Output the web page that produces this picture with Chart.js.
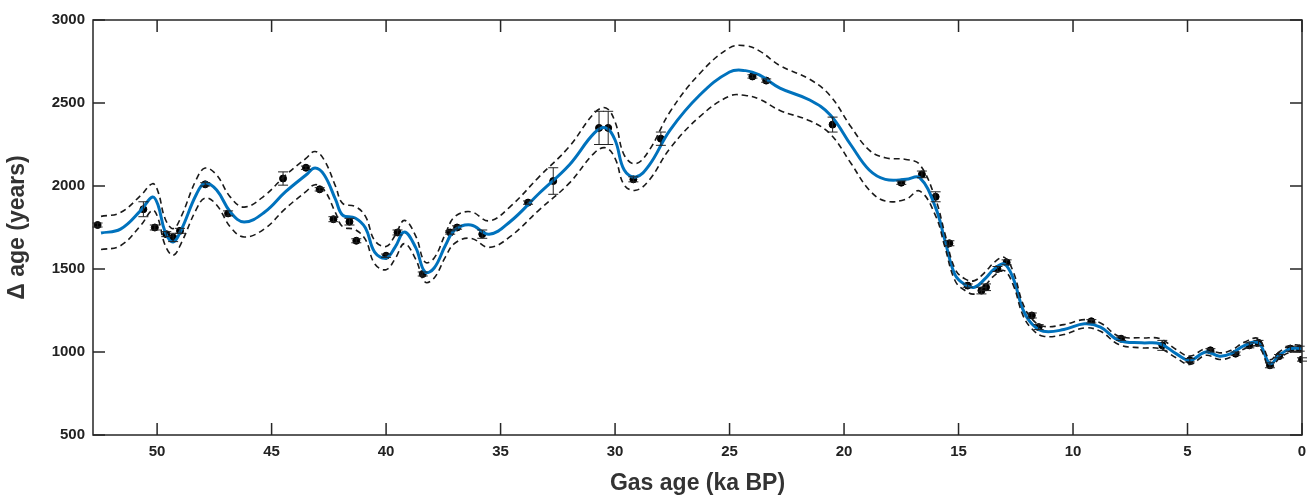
<!DOCTYPE html>
<html>
<head>
<meta charset="utf-8">
<script src="https://cdn.jsdelivr.net/npm/chart.js@4"></script>
<style>
  html, body { margin: 0; padding: 0; background: #fff; }
  #wrap { width: 1310px; height: 501px; }
</style>
</head>
<body>
<div id="wrap"><canvas id="c" width="1310" height="501"></canvas></div>
<script>
// Spline fit (gas age ka BP, delta age years) and its half-width of the dashed band
const fitAge = [52.45, 51.6, 50.7, 50.2, 49.96, 49.65, 49.3, 48.95, 48.3, 47.9, 47.4, 46.8, 46.2, 45.3, 44.4, 43.5, 43.1, 42.7, 42.2, 41.9, 41.35, 40.9, 40.5, 40.0, 39.6, 39.2, 38.7, 38.3, 37.9, 37.4, 37.0, 36.3, 35.5, 34.6, 33.3, 32.0, 30.9, 30.4, 30.0, 29.6, 29.1, 28.5, 27.6, 26.3, 25.0, 24.3, 23.7, 22.8, 21.5, 20.6, 19.7, 18.9, 18.2, 17.3, 16.7, 16.0, 15.6, 15.15, 14.7, 14.3, 13.85, 13.4, 13.0, 12.6, 12.2, 11.8, 11.3, 10.4, 9.5, 8.8, 8.0, 7.0, 6.2, 5.5, 4.9, 4.2, 3.6, 3.1, 2.5, 1.9, 1.4, 1.0, 0.5, 0.0];
const fitDelta = [1717, 1740, 1855, 1934, 1886, 1723, 1663, 1735, 1946, 2018, 1976, 1843, 1783, 1843, 1964, 2066, 2108, 2066, 1916, 1825, 1807, 1747, 1602, 1566, 1633, 1723, 1627, 1482, 1506, 1645, 1735, 1765, 1710, 1783, 1958, 2127, 2320, 2350, 2277, 2096, 2054, 2127, 2337, 2548, 2687, 2695, 2669, 2590, 2518, 2428, 2247, 2096, 2040, 2040, 2050, 1870, 1675, 1464, 1404, 1390, 1440, 1505, 1530, 1440, 1260, 1170, 1125, 1135, 1170, 1150, 1070, 1055, 1050, 990, 950, 1000, 975, 990, 1040, 1055, 930, 980, 1020, 1020];
const bandHalf = [100, 100, 90, 80, 80, 80, 80, 80, 90, 90, 90, 90, 90, 100, 100, 100, 100, 90, 80, 70, 70, 70, 70, 70, 70, 70, 70, 60, 60, 70, 80, 80, 80, 90, 100, 110, 120, 120, 110, 90, 80, 90, 110, 130, 145, 150, 145, 135, 125, 115, 110, 120, 130, 120, 80, 50, 40, 35, 35, 40, 40, 40, 40, 40, 35, 30, 30, 30, 25, 25, 25, 30, 30, 25, 25, 20, 20, 20, 20, 25, 25, 20, 20, 20];

// Measured points with 1-sigma error
const obsAge = [52.6, 50.6, 50.1, 49.6, 49.3, 49.0, 47.9, 46.9, 44.5, 43.5, 42.9, 42.3, 41.6, 41.3, 40.0, 39.5, 38.4, 37.2, 36.9, 35.8, 33.8, 32.7, 30.7, 30.3, 29.2, 28.0, 24.0, 23.4, 20.5, 17.5, 16.6, 16.0, 15.4, 14.6, 14.0, 13.8, 13.3, 12.9, 11.8, 11.5, 9.2, 7.9, 6.1, 4.9, 4.0, 2.9, 2.3, 1.9, 1.4, 1.0, 0.5, 0.1, 0.0];
const obsDelta = [1765, 1860, 1750, 1710, 1690, 1730, 2010, 1835, 2045, 2110, 1980, 1800, 1785, 1670, 1580, 1720, 1470, 1720, 1750, 1710, 1900, 2030, 2350, 2350, 2040, 2285, 2660, 2635, 2370, 2020, 2070, 1935, 1655, 1400, 1370, 1390, 1500, 1540, 1220, 1150, 1185, 1080, 1040, 950, 1010, 990, 1040, 1055, 920, 975, 1020, 1020, 955];
const obsErr = [12, 45, 15, 15, 25, 15, 10, 15, 40, 10, 10, 15, 20, 12, 10, 15, 12, 10, 10, 25, 10, 80, 100, 100, 15, 40, 10, 10, 45, 10, 20, 30, 15, 10, 20, 20, 15, 15, 15, 15, 10, 10, 30, 10, 10, 10, 15, 15, 15, 10, 15, 15, 10];

const yTicks = [500, 1000, 1500, 2000, 2500, 3000];
const xTicks = [0, 5, 10, 15, 20, 25, 30, 35, 40, 45, 50];

const pts = (xs, ys) => xs.map((x, i) => ({ x: x, y: ys[i] }));
const fit = pts(fitAge, fitDelta);
const upper = pts(fitAge, fitDelta.map((v, i) => v + bandHalf[i]));
const lower = pts(fitAge, fitDelta.map((v, i) => v - bandHalf[i]));
const obs = pts(obsAge, obsDelta);

// Error bars, inward ticks and box
const extras = {
  id: "extras",
  afterDatasetsDraw(chart) {
    const { ctx, chartArea: a, scales: { x, y } } = chart;
    ctx.save();
    ctx.strokeStyle = "#222";
    ctx.lineWidth = 1;
    obsAge.forEach((age, i) => {
      const px = x.getPixelForValue(age);
      const top = y.getPixelForValue(obsDelta[i] + obsErr[i]);
      const bot = y.getPixelForValue(obsDelta[i] - obsErr[i]);
      ctx.beginPath();
      ctx.moveTo(px, top); ctx.lineTo(px, bot);
      ctx.moveTo(px - 5, top); ctx.lineTo(px + 5, top);
      ctx.moveTo(px - 5, bot); ctx.lineTo(px + 5, bot);
      ctx.stroke();
    });
    ctx.strokeStyle = "#262626";
    ctx.lineWidth = 1.5;
    ctx.strokeRect(a.left, a.top, a.right - a.left, a.bottom - a.top);
    ctx.beginPath();
    xTicks.forEach(t => {
      const px = x.getPixelForValue(t);
      ctx.moveTo(px, a.bottom); ctx.lineTo(px, a.bottom - 12);
      ctx.moveTo(px, a.top); ctx.lineTo(px, a.top + 12);
    });
    yTicks.forEach(t => {
      const py = y.getPixelForValue(t);
      ctx.moveTo(a.left, py); ctx.lineTo(a.left + 12, py);
      ctx.moveTo(a.right, py); ctx.lineTo(a.right - 12, py);
    });
    ctx.stroke();
    ctx.restore();
  }
};

const dashed = { borderColor: "#1a1a1a", borderWidth: 1.6, borderDash: [6, 4], pointRadius: 0, tension: 0.4, fill: false };
const tickFont = { family: "Liberation Sans", size: 15, weight: "bold" };

new Chart(document.getElementById("c"), {
  type: "line",
  data: {
    datasets: [
      { data: upper, ...dashed },
      { data: lower, ...dashed },
      { data: fit, borderColor: "#0072BD", borderWidth: 3, pointRadius: 0, tension: 0.4, fill: false },
      { type: "scatter", data: obs, backgroundColor: "#000", borderColor: "#000", pointRadius: 3.5 }
    ]
  },
  options: {
    responsive: false,
    animation: false,
    layout: { padding: { left: 0, right: 8, top: 20, bottom: 0 } },
    plugins: { legend: { display: false }, tooltip: { enabled: false } },
    scales: {
      x: {
        type: "linear", reverse: true, min: 0, max: 52.8,
        afterBuildTicks: s => { s.ticks = xTicks.map(v => ({ value: v })); },
        afterFit: s => { s.height = 66; },
        grid: { display: false, drawTicks: false },
        border: { display: false },
        ticks: { color: "#222", padding: 8, font: tickFont, callback: v => String(v) },
        title: { display: true, text: "Gas age (ka BP)", color: "#333", padding: { top: 4 }, font: { family: "Liberation Sans", size: 23, weight: "bold" } }
      },
      y: {
        min: 500, max: 3000,
        afterBuildTicks: s => { s.ticks = yTicks.map(v => ({ value: v })); },
        afterFit: s => { s.width = 93; },
        grid: { display: false, drawTicks: false },
        border: { display: false },
        ticks: { color: "#222", padding: 8, font: tickFont, callback: v => String(v) },
        title: { display: true, text: "\u0394 age (years)", color: "#333", padding: { bottom: 4 }, font: { family: "Liberation Sans", size: 23, weight: "bold" } }
      }
    }
  },
  plugins: [extras]
});
</script>
</body>
</html>
